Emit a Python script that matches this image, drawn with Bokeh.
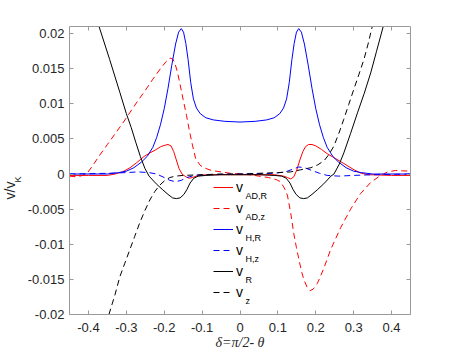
import math
from bokeh.plotting import figure
from bokeh.models import (Range1d, FixedTicker, LinearAxis, Label, Legend, LegendItem, Title,
                          CustomLabelingPolicy)
from bokeh.embed import file_html
from bokeh.resources import INLINE

# ---------------- data ----------------
x_ticks = [-0.4, -0.3, -0.2, -0.1, 0.0, 0.1, 0.2, 0.3, 0.4]
x_tick_labels = ["-0.4", "-0.3", "-0.2", "-0.1", "0", "0.1", "0.2", "0.3", "0.4"]
y_ticks = [-0.02, -0.015, -0.01, -0.005, 0.0, 0.005, 0.01, 0.015, 0.02]
y_tick_labels = ["-0.02", "-0.015", "-0.01", "-0.005", "0", "0.005", "0.01", "0.015", "0.02"]

# v_AD,R  (red solid)
x_adR = [-0.45, -0.40, -0.35, -0.33, -0.31, -0.29, -0.273, -0.253, -0.238, -0.224, -0.209, -0.198,
         -0.190, -0.182, -0.175, -0.168, -0.161, -0.153, -0.143, -0.134, -0.125, -0.115, -0.090, 0.0,
         0.090, 0.115, 0.125, 0.134, 0.142, 0.150, 0.158, 0.166, 0.173, 0.181, 0.190, 0.200, 0.215,
         0.230, 0.252, 0.274, 0.301, 0.32, 0.34, 0.40, 0.45]
y_adR = [-0.0002, -0.0002, -0.0002, 0.0000, 0.0003, 0.0009, 0.0016, 0.0025, 0.0030, 0.0034, 0.0039, 0.0041,
         0.0042, 0.0040, 0.0032, 0.0020, 0.0008, 0.0000, -0.0004, -0.0006, -0.0005, -0.0003, -0.0001, -0.0001,
         -0.0001, -0.0003, -0.0005, -0.0007, -0.0004, 0.0006, 0.0020, 0.0032, 0.0039, 0.0042, 0.0042, 0.0040, 0.0035,
         0.0029, 0.0022, 0.0015, 0.0006, 0.0001, -0.0001, -0.0002, -0.0002]

# v_AD,z  (red dashed)
x_adz = [-0.45, -0.43, -0.415, -0.405, -0.39, -0.37, -0.35, -0.33, -0.31, -0.29, -0.27, -0.25, -0.23,
         -0.21, -0.195, -0.185, -0.178, -0.172, -0.165, -0.158, -0.150, -0.141, -0.133, -0.125, -0.117,
         -0.106, -0.096, -0.075, -0.050, -0.025, 0.0, 0.025, 0.050, 0.075, 0.096, 0.107, 0.117, 0.125,
         0.134, 0.142, 0.149, 0.156, 0.163, 0.169, 0.177, 0.185, 0.193, 0.204, 0.220, 0.239, 0.266,
         0.292, 0.318, 0.345, 0.371, 0.39, 0.41, 0.45]
y_adz = [-0.0003, -0.0004, -0.0002, 0.0000, 0.0011, 0.0027, 0.0042, 0.0057, 0.0072, 0.0088, 0.0104, 0.0119, 0.0135,
         0.0150, 0.0160, 0.0165, 0.0164, 0.0158, 0.0145, 0.0127, 0.0106, 0.0083, 0.0060, 0.0040, 0.0022,
         0.0013, 0.0009, 0.0005, 0.0003, 0.0001, 0.0000, -0.0001, -0.0003, -0.0005, -0.0008, -0.0011, -0.0020, -0.0030,
         -0.0056, -0.0085, -0.0105, -0.0123, -0.0140, -0.0151, -0.0161, -0.0166, -0.0164, -0.0156, -0.0136, -0.0108, -0.0076,
         -0.0050, -0.0028, -0.0012, -0.0002, 0.0003, 0.0005, 0.0004]

# v_H,R  (blue solid)
x_hR = [-0.45, -0.35, -0.32, -0.30, -0.28, -0.26, -0.245, -0.23, -0.22, -0.21, -0.20, -0.19, -0.18,
        -0.17, -0.162, -0.155, -0.149, -0.143, -0.137, -0.130, -0.123, -0.115, -0.105, -0.09, -0.07,
        -0.04, 0.0, 0.04, 0.07, 0.09, 0.105, 0.115, 0.123, 0.130, 0.137, 0.143, 0.149, 0.155, 0.162,
        0.17, 0.18, 0.19, 0.20, 0.21, 0.22, 0.23, 0.245, 0.26, 0.28, 0.30, 0.32, 0.35, 0.45]
y_hR = [0.0000, 0.0000, 0.0002, 0.0004, 0.0009, 0.0017, 0.0025, 0.0038, 0.0052, 0.0070, 0.0093, 0.0122, 0.0155,
        0.0185, 0.0202, 0.0207, 0.0202, 0.0186, 0.0163, 0.0130, 0.0107, 0.0094, 0.0086, 0.0080, 0.0077,
        0.0075, 0.0074, 0.0075, 0.0077, 0.0080, 0.0086, 0.0094, 0.0107, 0.0130, 0.0163, 0.0186, 0.0202, 0.0207, 0.0202,
        0.0185, 0.0155, 0.0122, 0.0093, 0.0070, 0.0052, 0.0038, 0.0025, 0.0017, 0.0009, 0.0004, 0.0002, 0.0000, 0.0000]

# v_H,z  (blue dashed)
x_hz = [-0.45, -0.35, -0.30, -0.27, -0.24, -0.22, -0.20, -0.185, -0.17, -0.155, -0.14, -0.12, -0.09, 0.0,
        0.09, 0.12, 0.14, 0.155, 0.17, 0.19, 0.21, 0.23, 0.26, 0.30, 0.35, 0.45]
y_hz = [0.0000, 0.0001, 0.0002, 0.0003, 0.0002, 0.0000, -0.0005, -0.0009, -0.0011, -0.0009, -0.0005, -0.0002, -0.0001, 0.0000,
        0.0001, 0.0003, 0.0007, 0.0010, 0.0009, 0.0005, 0.0001, -0.0002, -0.0003, -0.0002, -0.0001, 0.0000]

# v_R  (black solid)
x_R = [-0.372, -0.344, -0.317, -0.300, -0.287, -0.275, -0.263, -0.251, -0.240, -0.221, -0.205, -0.190,
       -0.178, -0.168, -0.158, -0.148, -0.140, -0.132, -0.122, -0.110, -0.090, -0.050, 0.0, 0.050, 0.090,
       0.110, 0.122, 0.132, 0.140, 0.148, 0.158, 0.168, 0.178, 0.190, 0.205, 0.221, 0.240, 0.248, 0.262,
       0.274, 0.292, 0.310, 0.328, 0.345, 0.360, 0.378]
y_R = [0.0210, 0.0163, 0.0116, 0.0086, 0.0066, 0.0045, 0.0025, 0.0008, -0.0003, -0.0014, -0.0022, -0.0029,
       -0.0034, -0.0035, -0.0034, -0.0029, -0.0022, -0.0013, -0.0006, -0.0003, -0.0002, -0.0001, -0.0001, -0.0001, -0.0002,
       -0.0003, -0.0006, -0.0013, -0.0022, -0.0029, -0.0034, -0.0035, -0.0034, -0.0029, -0.0022, -0.0014, -0.0003, 0.0000, 0.0014,
       0.0030, 0.0058, 0.0087, 0.0115, 0.0144, 0.0174, 0.0210]

# v_z  (black dashed)
x_z = [-0.346, -0.330, -0.317, -0.304, -0.291, -0.278, -0.265, -0.251, -0.238, -0.225, -0.212, -0.198,
       -0.185, -0.170, -0.150, -0.100, -0.050, 0.0, 0.050, 0.100, 0.134, 0.160, 0.187, 0.205, 0.222,
       0.235, 0.248, 0.261, 0.274, 0.287, 0.300, 0.314, 0.327, 0.338, 0.349]
y_z = [-0.0200, -0.0172, -0.0146, -0.0127, -0.0108, -0.0089, -0.0070, -0.0052, -0.0037, -0.0025, -0.0016, -0.0009,
       -0.0005, -0.0003, -0.0002, -0.0001, 0.0000, 0.0000, 0.0001, 0.0002, 0.0003, 0.0006, 0.0009, 0.0013, 0.0019,
       0.0028, 0.0040, 0.0058, 0.0078, 0.0099, 0.0120, 0.0142, 0.0163, 0.0185, 0.0210]

legend_subs = ["AD,R", "AD,z", "H,R", "H,z", "R", "z"]
x_title = "δ=π/2- θ"
y_title_main = "v/v"
y_title_sub = "K"

# ---------------- figure ----------------
FONT = "Liberation Sans"
AX = "#9a9a9a"
TXT = "#262626"

p = figure(width=453, height=354, output_backend="svg", toolbar_location=None,
           x_range=Range1d(-0.45, 0.45), y_range=Range1d(-0.02, 0.021),
           min_border_left=69, min_border_right=43, min_border_top=26, min_border_bottom=40,
           background_fill_color="white", border_fill_color="white")
p.outline_line_color = None
p.grid.visible = False

hide_labels = CustomLabelingPolicy(
    code="try { return new indices.constructor(indices.size, 0) } catch (e) { return indices }")


def style_axis(ax, ticks, labels, show_labels):
    ax.ticker = FixedTicker(ticks=ticks)
    ax.major_label_overrides = {t: l for t, l in zip(ticks, labels)}
    ax.axis_line_color = AX
    ax.major_tick_line_color = AX
    ax.major_tick_in = 4
    ax.major_tick_out = 0
    ax.minor_tick_line_color = None
    ax.major_label_text_font = FONT
    ax.major_label_text_color = TXT
    if show_labels:
        ax.major_label_text_font_size = "13px"
        ax.major_label_standoff = 6
    else:
        ax.major_label_text_font_size = "0px"
        ax.major_label_standoff = 0
        ax.major_label_policy = hide_labels


style_axis(p.xaxis[0], x_ticks, x_tick_labels, True)
style_axis(p.yaxis[0], y_ticks, y_tick_labels, True)
p.yaxis[0].major_label_standoff = 5
p.xaxis[0].major_label_standoff = 8

p.xaxis[0].axis_label = x_title
p.xaxis[0].axis_label_text_font = "Liberation Serif"
p.xaxis[0].axis_label_text_font_style = "italic"
p.xaxis[0].axis_label_text_font_size = "14px"
p.xaxis[0].axis_label_text_color = TXT
p.xaxis[0].axis_label_standoff = 0

top_ax = LinearAxis()
right_ax = LinearAxis()
style_axis(top_ax, x_ticks, x_tick_labels, False)
style_axis(right_ax, y_ticks, y_tick_labels, False)
p.add_layout(top_ax, "above")
p.add_layout(right_ax, "right")

# y title: "v/v" with subscript "K" (two stacked side-panel titles)
t_sub = Title(text=y_title_sub, align="left", offset=132, vertical_align="top", standoff=0,
              text_font=FONT, text_font_size="9px", text_color=TXT, text_font_style="normal")
t_main = Title(text=y_title_main, align="left", offset=115, vertical_align="bottom", standoff=0,
               text_font=FONT, text_font_size="14px", text_color=TXT, text_font_style="normal")
try:
    t_main.standoff = -10
except Exception:
    t_main.standoff = 0
p.add_layout(t_sub, "left")
p.add_layout(t_main, "left")

DASH = "6 4"
r1 = p.line(x_adR, y_adR, line_color="#ff0000", line_width=1)
r2 = p.line(x_adz, y_adz, line_color="#ff0000", line_width=1, line_dash=DASH)
r3 = p.line(x_hR, y_hR, line_color="#0000ff", line_width=1)
r4 = p.line(x_hz, y_hz, line_color="#0000ff", line_width=1, line_dash=DASH)
r5 = p.line(x_R, y_R, line_color="#000000", line_width=1)
r6 = p.line(x_z, y_z, line_color="#000000", line_width=1, line_dash=DASH)

# legend (label "v" + subscript labels)
ITEM_H = 18
SPACING = 3
LEG_X, LEG_Y = 144, 13
items = [LegendItem(label="v", renderers=[r]) for r in (r1, r2, r3, r4, r5, r6)]
legend = Legend(items=items, location=(LEG_X, LEG_Y), orientation="vertical",
                glyph_width=20, glyph_height=ITEM_H, label_height=ITEM_H, spacing=SPACING,
                padding=0, margin=0, label_standoff=3,
                border_line_color=None, background_fill_alpha=0,
                label_text_font=FONT, label_text_font_size="14px", label_text_color="#000000")
p.add_layout(legend)

leg_top = LEG_Y + 6 * ITEM_H + 5 * SPACING
for i, sub in enumerate(legend_subs):
    cy = leg_top - ITEM_H / 2 - i * (ITEM_H + SPACING)
    p.add_layout(Label(x=LEG_X + 32, y=cy - 8, x_units="screen", y_units="screen",
                       text=sub, text_font=FONT, text_font_size="9px", text_color="#000000",
                       text_baseline="alphabetic", text_align="left"))

open("out.html", "w").write(file_html(p, INLINE))
